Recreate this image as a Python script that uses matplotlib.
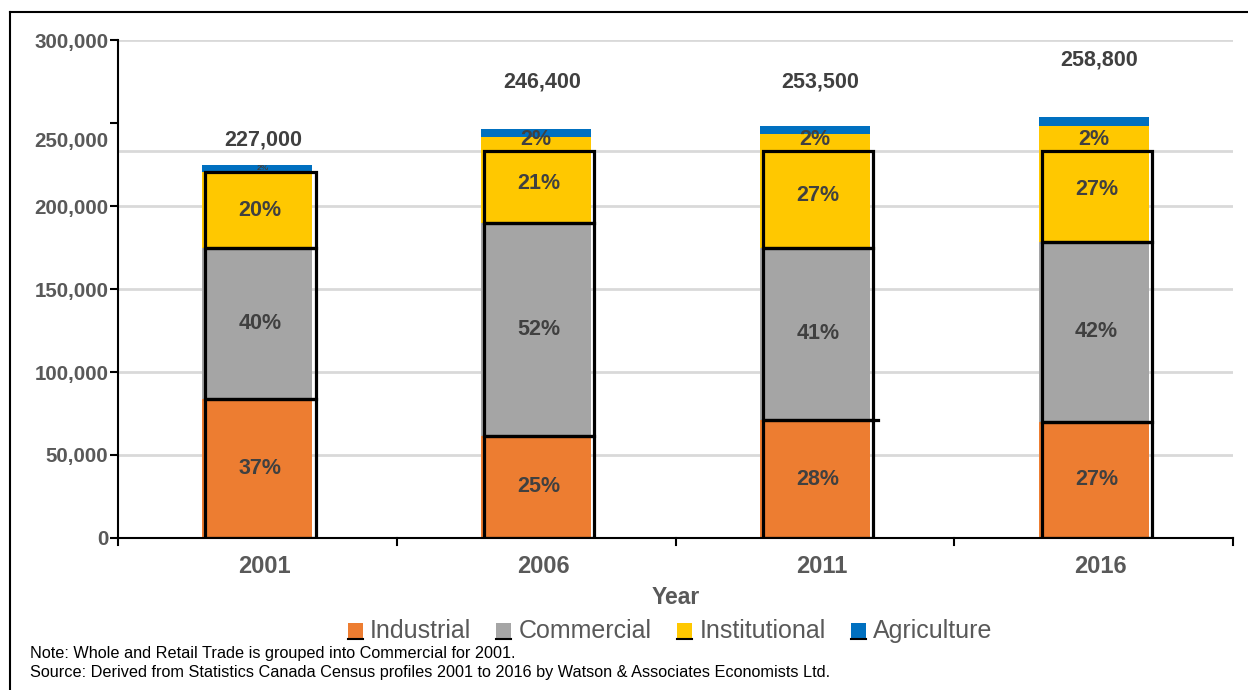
import matplotlib
matplotlib.use("Agg")
import matplotlib.pyplot as plt
from matplotlib.patches import Rectangle
from matplotlib.lines import Line2D
from matplotlib.legend_handler import HandlerBase
import matplotlib.transforms as mtransforms

plt.rcParams['font.family'] = ['Liberation Sans', 'DejaVu Sans']

# employment by sector, census years
years = ['2001', '2006', '2011', '2016']
totals = [227000, 246400, 253500, 258800]
sectors = ['Industrial', 'Commercial', 'Institutional', 'Agriculture']
shares = {
    'Industrial':    [37, 25, 28, 27],
    'Commercial':    [40, 52, 41, 42],
    'Institutional': [20, 21, 27, 27],
    'Agriculture':   [2, 2, 2, 2],
}
colors = {
    'Industrial': '#ED7D31',
    'Commercial': '#A5A5A5',
    'Institutional': '#FFC800',
    'Agriculture': '#0070C0',
}
total_label_y = [240000, 274800, 274800, 288000]
agri_label_y = [None, 240000, 240000, 240000]
frame_cap = 233000

yticks = [0, 50000, 100000, 150000, 200000, 250000, 300000]
grid_vals = [50000, 100000, 150000, 200000, 233000, 300000]

fig = plt.figure(figsize=(12.48, 6.9), dpi=100)
ax = fig.add_axes([0.0946, 0.2203, 0.8934, 0.7217])

for g in grid_vals:
    ax.axhline(g, color='#D9D9D9', lw=2, zorder=0)

x = list(range(len(years)))
width = 0.395
bottoms = [0.0] * len(years)
seg = {}
for s in sectors:
    vals = [t * p / 100 for t, p in zip(totals, shares[s])]
    ax.bar(x, vals, width, bottom=bottoms, color=colors[s], zorder=2)
    seg[s] = (list(bottoms), vals)
    bottoms = [b + v for b, v in zip(bottoms, vals)]

# black frames round the lower three segments
dx = 0.011
for s in ['Industrial', 'Commercial', 'Institutional']:
    b, v = seg[s]
    for i in range(len(years)):
        top = min(b[i] + v[i], frame_cap)
        ax.add_patch(Rectangle((x[i] - width / 2 + dx, b[i]), width, top - b[i],
                               fill=False, edgecolor='black', lw=2.3, zorder=3))
# stray frame edge on 2011
b, v = seg['Industrial']
ax.plot([x[2] + width / 2 + dx, x[2] + width / 2 + 0.03], [b[2] + v[2]] * 2,
        color='black', lw=2.3, zorder=3)

# segment labels
lab = dict(ha='center', va='center', fontweight='bold', color='#404040', zorder=5)
for s in ['Industrial', 'Commercial', 'Institutional']:
    b, v = seg[s]
    for i in range(len(years)):
        top = b[i] + v[i]
        yc = (b[i] + top) / 2
        if s == 'Institutional':
            # halfway between the fill centre and the frame centre
            yc = (yc + (b[i] + min(top, frame_cap)) / 2) / 2
        ax.text(x[i] + 0.01, yc, f"{shares[s][i]}%", fontsize=15.5, **lab)
b, v = seg['Agriculture']
for i in range(len(years)):
    if agri_label_y[i] is None:
        ax.text(x[i] + 0.02, b[i] + v[i] / 2, f"{shares['Agriculture'][i]}%", fontsize=6, **lab)
    else:
        ax.text(x[i], agri_label_y[i], f"{shares['Agriculture'][i]}%", fontsize=15.5, **lab)

for i in range(len(years)):
    ax.text(x[i] + 0.02, total_label_y[i], f"{totals[i]:,}", fontsize=15.5, **lab)

ax.set_xlim(-0.5, len(years) - 0.5)
ax.set_ylim(0, 300000)
ax.set_yticks(yticks)
ax.set_yticklabels([f"{t:,}" for t in yticks], fontsize=14.8, fontweight='bold', color='#595959')
ax.tick_params(axis='y', length=6, width=1.5, pad=1)
ax.set_xticks(x)
ax.set_xticklabels(years, fontsize=17, fontweight='bold', color='#595959')
ax.tick_params(axis='x', length=0, pad=12)
for k in [i - 0.5 for i in range(len(years) + 1)]:
    ax.plot([k, k], [0, -4000], color='black', lw=1.5, clip_on=False, zorder=4)

# shift the 250,000 label down a little
lbl = ax.get_yticklabels()[5]
lbl.set_transform(lbl.get_transform() + mtransforms.ScaledTranslation(0, -0.16, fig.dpi_scale_trans))
for t in ax.get_xticklabels():
    t.set_transform(t.get_transform() + mtransforms.ScaledTranslation(0.07, 0, fig.dpi_scale_trans))

for sp in ['top', 'right']:
    ax.spines[sp].set_visible(False)
ax.spines['left'].set_linewidth(1.5)
ax.spines['bottom'].set_linewidth(1.5)
ax.set_xlabel('Year', fontsize=16.5, fontweight='bold', color='#595959', labelpad=6)


class SquareHandler(HandlerBase):
    def create_artists(self, legend, orig_handle, xd, yd, w, h, fontsize, trans):
        sq = Rectangle((xd, yd), w, h, facecolor=orig_handle.get_facecolor(), transform=trans)
        base = Line2D([xd, xd + w], [yd, yd], color='black', lw=1.5, transform=trans)
        return [sq, base]


handles = [Rectangle((0, 0), 1, 1, facecolor=colors[s]) for s in sectors]
leg = fig.legend(handles, sectors, loc='center', bbox_to_anchor=(0.537, 0.086), ncol=4,
                 frameon=False, fontsize=18, handlelength=0.6, handleheight=0.6,
                 handletextpad=0.3, columnspacing=1.0,
                 handler_map={Rectangle: SquareHandler()})
for t in leg.get_texts():
    t.set_color('#595959')

fig.text(0.024, 0.053, "Note: Whole and Retail Trade is grouped into Commercial for 2001.",
         fontsize=11.7, va='center')
fig.text(0.024, 0.025, "Source: Derived from Statistics Canada Census profiles 2001 to 2016 by Watson & Associates Economists Ltd.",
         fontsize=11.7, va='center')

# outer chart border (top and left)
fig.add_artist(Line2D([0.008, 1.0], [0.982, 0.982], color='black', lw=1.5, transform=fig.transFigure))
fig.add_artist(Line2D([0.008, 0.008], [0.0, 0.982], color='black', lw=1.5, transform=fig.transFigure))

fig.savefig('out.png', dpi=100)
